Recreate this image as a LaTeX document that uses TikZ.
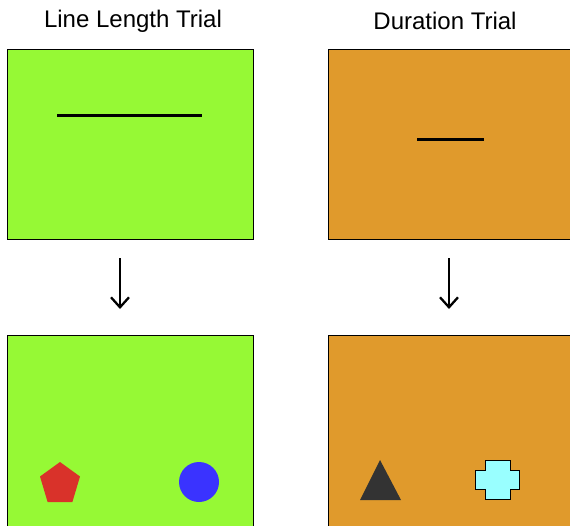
\documentclass[tikz,border=0pt]{standalone}
\usepackage{fontspec}
\setmainfont{Liberation Sans}
\usetikzlibrary{arrows.meta}
\definecolor{lgreen}{HTML}{96F935}
\definecolor{lorange}{HTML}{E09A2C}
\definecolor{pred}{HTML}{D9322A}
\definecolor{cblue}{HTML}{3A33FF}
\definecolor{tdark}{HTML}{333333}
\definecolor{xcyan}{HTML}{99FFFF}
\begin{document}
\begin{tikzpicture}[x=1pt,y=-1pt,
  panel/.style={draw=black,line width=0.9pt},
  title/.style={font=\fontsize{24}{26}\selectfont,anchor=center,inner sep=0pt},
  stim/.style={line width=3pt,black},
  arr/.style={-{Straight Barb[length=10pt,width=18pt]},line width=2.3pt}]
\useasboundingbox (0,0) rectangle (570,525);
\node[title] (t1) at (133,21) {Line Length Trial};
\node[title] (t2) at (445,21) {Duration Trial};
% panels
\path[panel,fill=lgreen] (7,49) rectangle (253,239);
\path[panel,fill=lorange] (328,49) rectangle (571,239);
\path[panel,fill=lgreen] (7,335) rectangle (253,526);
\path[panel,fill=lorange] (328,335) rectangle (571,526);
% stimuli lines
\draw[stim] (57,115) -- (202,115);
\draw[stim] (417,139) -- (484,139);
% arrows
\coordinate (a1s) at (120,258); \coordinate (a1e) at (120,309);
\coordinate (a2s) at (449,258); \coordinate (a2e) at (449,309);
\draw[arr] (a1s) -- (a1e);
\draw[arr] (a2s) -- (a2e);
% shapes
\fill[pred] (60,462) -- (80,476.5) -- (72.4,502) -- (47.6,502) -- (40,476.5) -- cycle;
\fill[cblue] (199,482) circle (20);
\fill[tdark] (380,460) -- (401,500) -- (360,500) -- cycle;
\draw[black,fill=xcyan,line width=0.9pt] (485,460) -- (510,460) -- (510,470) -- (519,470) -- (519,489) -- (510,489) -- (510,499) -- (485,499) -- (485,489) -- (475,489) -- (475,470) -- (485,470) -- cycle;
\end{tikzpicture}
\end{document}
